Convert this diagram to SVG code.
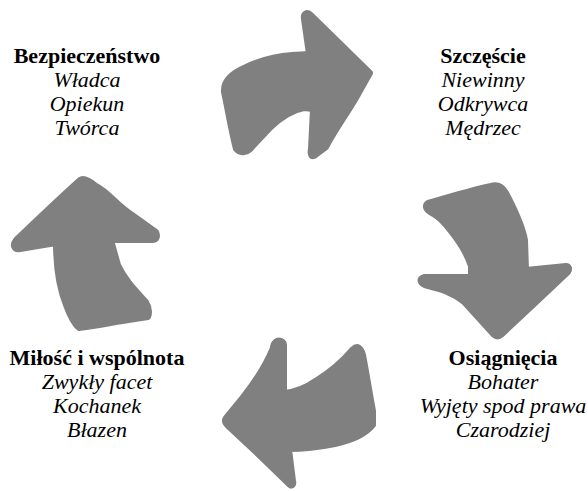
<svg xmlns="http://www.w3.org/2000/svg" width="588" height="491" viewBox="0 0 588 491">
<style>
.arrow{fill:#808080;stroke:#808080;stroke-width:6;stroke-linejoin:round}
text{font-family:"Liberation Serif","Times New Roman",serif;font-size:22px;fill:#000;text-anchor:middle}
.b{font-weight:bold}
.i{font-style:italic}
</style>
<rect width="588" height="491" fill="#fff"/>
<g id="connectors">
<path id="arrow-top" class="arrow" d="M224,92 C223,81 232,73 246,67 C261,60 276,56 292,55 L309,54 L304,19 C303,14 307,11 311,15 L370,73 L356,98 C346,115 335,130 326,147 L314,156 C311,157 310,153 311,149 L313,109 L304,108 C293,110 282,116 270,128 L253,146 C248,153 240,154 236,149 C231,130 228,110 224,92 Z"/>
<path id="arrow-right" class="arrow" d="M428,203 C452,196 472,190 491,186 C498,184 502,186 506,193 C515,210 522,225 525,240 L526,270 L566,266 C569,266 570,269 568,272 L533,305 L501,335 C499,337 496,337 494,335 L464,302 C452,292 440,289 428,286 C420,284 418,279 424,277 L471,277 L471,266 C466,252 460,242 446,225 C440,218 434,214 430,212 C425,209 425,205 428,203 Z"/>
<path id="arrow-bottom" class="arrow" d="M281,341 C277,339 273,343 273,348 C266,365 255,382 243,397 L226,418 C224,421 225,423 227,425 L259,455 L290,485 C292,487 294,484 293,481 L289,449 C305,449 320,447 335,444 C350,441 365,435 373,425 L373,411 C370,395 366,370 363,355 C361,347 357,345 353,349 C342,362 330,372 317,380 C307,387 297,392 284,393 L284,345 C284,343 283,342 281,341 Z"/>
<path id="arrow-left" class="arrow" d="M80,180 C60,198 40,217 16,240 C12,245 14,250 20,249 L56,243 C56,260 58,285 66,305 C70,316 74,324 79,328 C95,326 115,322 135,319 L148,317 C150,312 149,307 146,302 C135,290 125,280 118,265 L111,240 L152,240 C157,240 158,236 156,232 C146,225 138,219 128,212 C115,203 108,192 96,186 C90,181 84,177 80,180 Z"/>
</g>
<g id="node-bezpieczenstwo">
<text class="b" x="87" y="63">Bezpieczeństwo</text>
<text class="i" x="87" y="87">Władca</text>
<text class="i" x="87" y="111">Opiekun</text>
<text class="i" x="87" y="135">Twórca</text>
</g>
<g id="node-szczescie">
<text class="b" x="483" y="63">Szczęście</text>
<text class="i" x="483" y="87">Niewinny</text>
<text class="i" x="483" y="111">Odkrywca</text>
<text class="i" x="483" y="135">Mędrzec</text>
</g>
<g id="node-milosc">
<text class="b" x="97" y="365">Miłość i wspólnota</text>
<text class="i" x="97" y="389">Zwykły facet</text>
<text class="i" x="97" y="413">Kochanek</text>
<text class="i" x="97" y="437">Błazen</text>
</g>
<g id="node-osiagniecia">
<text class="b" x="503" y="365">Osiągnięcia</text>
<text class="i" x="503" y="389">Bohater</text>
<text class="i" x="503" y="413">Wyjęty spod prawa</text>
<text class="i" x="503" y="437">Czarodziej</text>
</g>
</svg>
